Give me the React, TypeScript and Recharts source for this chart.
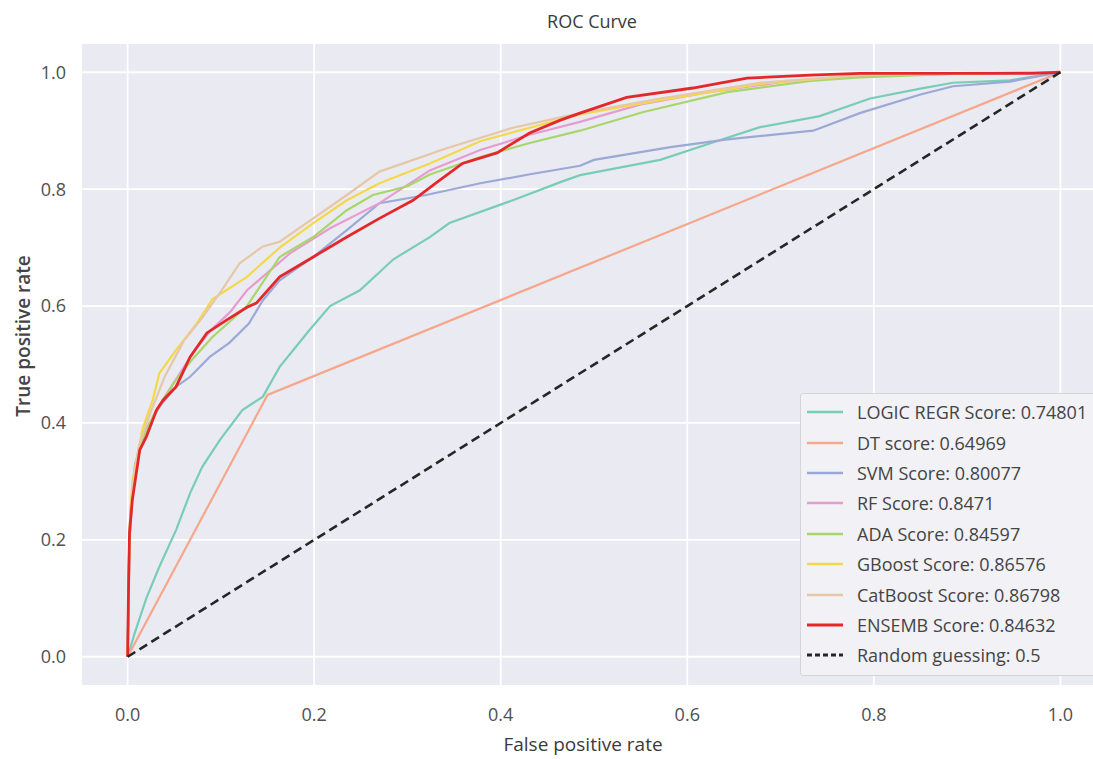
import React from "react";
import { LineChart, Line, XAxis, YAxis, CartesianGrid } from "recharts";

const xTicks = [0, 0.2, 0.4, 0.6, 0.8, 1.0];
const yTicks = [0, 0.2, 0.4, 0.6, 0.8, 1.0];

const logicFpr = [0, 0.0075, 0.02, 0.034, 0.052, 0.067, 0.08, 0.099, 0.123, 0.145, 0.163, 0.195, 0.217, 0.249, 0.285, 0.324, 0.345, 0.413, 0.464, 0.485, 0.571, 0.624, 0.678, 0.742, 0.796, 0.85, 0.885, 0.946, 1];
const logicTpr = [0, 0.04, 0.1, 0.154, 0.217, 0.28, 0.325, 0.371, 0.422, 0.445, 0.496, 0.559, 0.6, 0.627, 0.68, 0.718, 0.742, 0.781, 0.812, 0.824, 0.85, 0.878, 0.906, 0.925, 0.955, 0.972, 0.982, 0.986, 1];

const dtFpr = [0, 0.15, 1];
const dtTpr = [0, 0.448, 1];

const svmFpr = [0, 0.001, 0.003, 0.008, 0.02, 0.035, 0.052, 0.067, 0.088, 0.109, 0.13, 0.145, 0.163, 0.199, 0.235, 0.27, 0.32, 0.378, 0.43, 0.485, 0.5, 0.582, 0.643, 0.735, 0.785, 0.85, 0.885, 0.946, 1];
const svmTpr = [0, 0.15, 0.25, 0.33, 0.39, 0.43, 0.462, 0.479, 0.513, 0.537, 0.57, 0.61, 0.644, 0.684, 0.73, 0.776, 0.79, 0.81, 0.825, 0.84, 0.85, 0.872, 0.885, 0.9, 0.93, 0.962, 0.976, 0.984, 1];

const rfFpr = [0, 0.002, 0.006, 0.015, 0.03, 0.05, 0.07, 0.09, 0.11, 0.128, 0.174, 0.217, 0.27, 0.324, 0.378, 0.431, 0.485, 0.55, 0.62, 0.7, 0.78, 0.9, 1];
const rfTpr = [0, 0.2, 0.3, 0.37, 0.42, 0.47, 0.52, 0.56, 0.59, 0.627, 0.69, 0.733, 0.776, 0.832, 0.867, 0.893, 0.915, 0.945, 0.965, 0.983, 0.993, 0.998, 1];

const adaFpr = [0, 0.002, 0.006, 0.015, 0.03, 0.05, 0.07, 0.091, 0.128, 0.163, 0.199, 0.235, 0.263, 0.3, 0.324, 0.378, 0.431, 0.485, 0.553, 0.643, 0.732, 0.785, 0.9, 1];
const adaTpr = [0, 0.2, 0.3, 0.37, 0.42, 0.47, 0.51, 0.547, 0.6, 0.684, 0.718, 0.764, 0.79, 0.805, 0.825, 0.855, 0.879, 0.9, 0.932, 0.966, 0.985, 0.991, 0.998, 1];

const gbFpr = [0, 0.002, 0.005, 0.01, 0.016, 0.027, 0.034, 0.052, 0.074, 0.091, 0.128, 0.163, 0.199, 0.235, 0.27, 0.324, 0.378, 0.431, 0.485, 0.571, 0.678, 0.785, 0.9, 1];
const gbTpr = [0, 0.22, 0.3, 0.34, 0.39, 0.44, 0.485, 0.525, 0.57, 0.612, 0.65, 0.7, 0.742, 0.781, 0.81, 0.844, 0.882, 0.905, 0.928, 0.952, 0.98, 0.995, 0.999, 1];

const catFpr = [0, 0.002, 0.006, 0.012, 0.025, 0.04, 0.06, 0.08, 0.1, 0.12, 0.145, 0.163, 0.199, 0.235, 0.27, 0.342, 0.413, 0.485, 0.571, 0.678, 0.785, 1];
const catTpr = [0, 0.2, 0.3, 0.36, 0.42, 0.48, 0.54, 0.58, 0.625, 0.673, 0.702, 0.71, 0.75, 0.79, 0.83, 0.87, 0.905, 0.93, 0.955, 0.982, 0.995, 1];

const ensFpr = [0, 0.001, 0.002, 0.005, 0.013, 0.02, 0.031, 0.038, 0.052, 0.067, 0.085, 0.106, 0.128, 0.138, 0.163, 0.199, 0.235, 0.27, 0.306, 0.33, 0.359, 0.396, 0.431, 0.464, 0.485, 0.535, 0.606, 0.664, 0.732, 0.785, 0.97, 1];
const ensTpr = [0, 0.12, 0.212, 0.268, 0.354, 0.376, 0.422, 0.439, 0.462, 0.513, 0.554, 0.576, 0.598, 0.605, 0.65, 0.684, 0.718, 0.75, 0.781, 0.81, 0.844, 0.862, 0.896, 0.918, 0.93, 0.957, 0.973, 0.99, 0.995, 0.998, 0.998, 1];

const randFpr = [0, 1];
const randTpr = [0, 1];

const zip = (xs: number[], ys: number[]) => xs.map((x, i) => ({ x, y: ys[i] }));

const series = [
  { name: "LOGIC REGR Score: 0.74801", data: zip(logicFpr, logicTpr), color: "#78cdb6", width: 2.2, dash: undefined as string | undefined },
  { name: "DT score: 0.64969", data: zip(dtFpr, dtTpr), color: "#f6a78a", width: 2.2, dash: undefined },
  { name: "SVM Score: 0.80077", data: zip(svmFpr, svmTpr), color: "#9ca9d6", width: 2.2, dash: undefined },
  { name: "RF Score: 0.8471", data: zip(rfFpr, rfTpr), color: "#e79ccf", width: 2.2, dash: undefined },
  { name: "ADA Score: 0.84597", data: zip(adaFpr, adaTpr), color: "#a9d66a", width: 2.2, dash: undefined },
  { name: "GBoost Score: 0.86576", data: zip(gbFpr, gbTpr), color: "#f3d94a", width: 2.2, dash: undefined },
  { name: "CatBoost Score: 0.86798", data: zip(catFpr, catTpr), color: "#e6c7a6", width: 2.2, dash: undefined },
  { name: "ENSEMB Score: 0.84632", data: zip(ensFpr, ensTpr), color: "#e3282c", width: 2.8, dash: undefined },
  { name: "Random guessing: 0.5", data: zip(randFpr, randTpr), color: "#262626", width: 2.6, dash: "9 5" },
];

const FONT = "'Open Sans', 'Noto Sans', sans-serif";

const LegendBox = () => (
  <div
    style={{
      position: "absolute",
      left: 800,
      top: 393,
      width: 320,
      height: 283,
      background: "#f1f1f6",
      border: "1px solid #d4d4dc",
      borderRadius: 3,
      boxSizing: "border-box",
      paddingTop: 3,
      fontFamily: FONT,
    }}
  >
    {series.map((s) => (
      <div key={s.name} style={{ display: "flex", alignItems: "center", height: 30.4 }}>
        <svg width={56} height={10} style={{ flex: "none" }}>
          <line x1={6} y1={5} x2={42} y2={5} stroke={s.color} strokeWidth={s.width + 0.3} strokeDasharray={s.dash ? "5 3" : undefined} />
        </svg>
        <span style={{ fontSize: 18, color: "#444", whiteSpace: "nowrap" }}>{s.name}</span>
      </div>
    ))}
  </div>
);

export default function App() {
  return (
    <div style={{ position: "absolute", left: 0, top: 0, width: 1093, height: 759, overflow: "hidden", background: "#fff" }}>
      <LineChart width={1110} height={759} margin={{ top: 43, right: 3, left: 0, bottom: 0 }}>
        <CartesianGrid fill="#eaeaf2" stroke="#ffffff" strokeWidth={1.8} />
        <XAxis
          type="number"
          dataKey="x"
          domain={[-0.05, 1.05]}
          ticks={xTicks}
          allowDataOverflow
          axisLine={false}
          tickLine={false}
          tickSize={0}
          tickMargin={22}
          height={73}
          tickFormatter={(v: number) => v.toFixed(1)}
          tick={{ fontSize: 18, fill: "#505050", fontFamily: FONT }}
        />
        <YAxis
          type="number"
          domain={[-0.05, 1.05]}
          ticks={yTicks}
          allowDataOverflow
          axisLine={false}
          tickLine={false}
          tickSize={0}
          tickMargin={15}
          width={81}
          tickFormatter={(v: number) => v.toFixed(1)}
          tick={{ fontSize: 18, fill: "#505050", fontFamily: FONT }}
        />
        {series.map((s) => (
          <Line
            key={s.name}
            data={s.data}
            dataKey="y"
            name={s.name}
            type="linear"
            stroke={s.color}
            strokeWidth={s.width}
            strokeDasharray={s.dash}
            dot={false}
            activeDot={false}
            isAnimationActive={false}
          />
        ))}
        <text x={592} y={28} textAnchor="middle" fontSize={18} fill="#3a3a3a" fontFamily={FONT}>ROC Curve</text>
        <text x={583} y={751} textAnchor="middle" fontSize={19} fill="#3a3a3a" fontFamily={FONT}>False positive rate</text>
        <text x={30} y={336} textAnchor="middle" fontSize={19} fontWeight={600} fill="#444" fontFamily={FONT} transform="rotate(-90 30 336)">True positive rate</text>
      </LineChart>
      <LegendBox />
    </div>
  );
}
